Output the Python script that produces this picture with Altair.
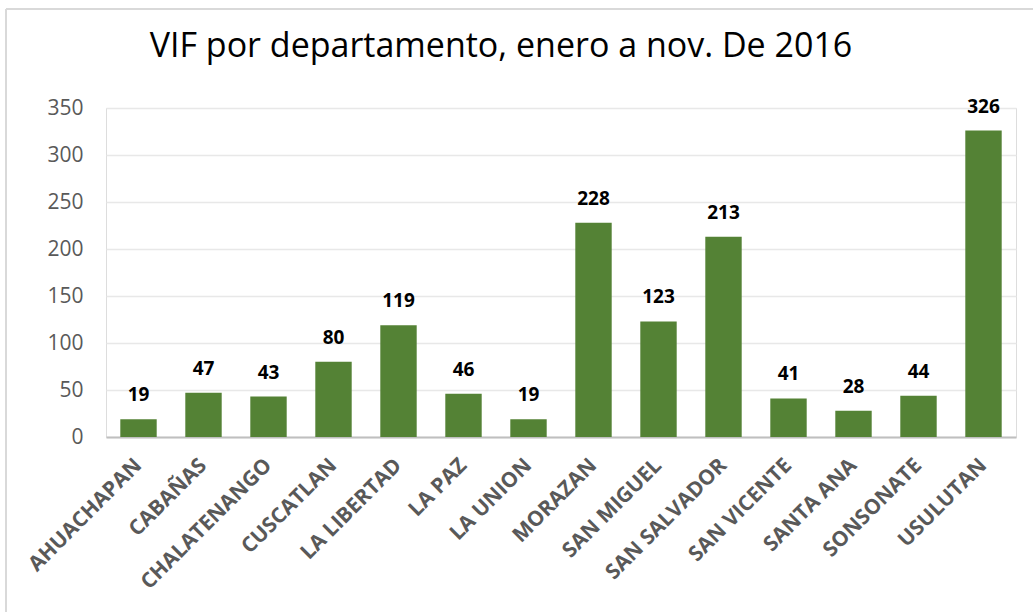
import altair as alt
import pandas as pd

departamentos = ["AHUACHAPAN", "CABAÑAS", "CHALATENANGO", "CUSCATLAN", "LA LIBERTAD",
                 "LA PAZ", "LA UNION", "MORAZAN", "SAN MIGUEL", "SAN SALVADOR",
                 "SAN VICENTE", "SANTA ANA", "SONSONATE", "USULUTAN"]
casos = [19, 47, 43, 80, 119, 46, 19, 228, 123, 213, 41, 28, 44, 326]
y_ticks = [0, 50, 100, 150, 200, 250, 300, 350]
titulo = ["VIF por departamento, enero a nov. De 2016"]

df = pd.DataFrame({"dep": departamentos, "casos": casos})

x = alt.X("dep:N", sort=departamentos, title=None,
          scale=alt.Scale(paddingInner=0.44, paddingOuter=0.22),
          axis=alt.Axis(labelAngle=-45, labelAlign="right", labelBaseline="middle",
                        labelFont="Open Sans", labelFontWeight="bold", labelFontSize=21,
                        labelColor="#595959", ticks=False, domain=True,
                        domainColor="#bfbfbf", domainWidth=2, labelPadding=25,
                        labelLimit=400))
y = alt.Y("casos:Q", title=None,
          scale=alt.Scale(domain=[0, 350], nice=False),
          axis=alt.Axis(values=y_ticks, labelFont="Open Sans", labelFontSize=21,
                        labelColor="#595959", ticks=False, domain=False,
                        gridColor="#e8e8e8", gridWidth=1.5, labelPadding=23))

bars = alt.Chart(df).mark_bar(color="#548235").encode(x=x, y=y)
labels = alt.Chart(df).mark_text(dy=-24, font="Open Sans", fontWeight="bold",
                                 fontSize=19, color="#000000").encode(
    x=alt.X("dep:N", sort=departamentos), y="casos:Q", text="casos:Q")

title_mark = alt.Chart(pd.DataFrame({"t": titulo})).mark_text(
    font="Open Sans", fontSize=34, color="#000000", align="center",
    baseline="alphabetic").encode(x=alt.value(395), y=alt.value(-51), text="t:N")

border_left = alt.Chart(df).mark_rule(color="#d9d9d9", strokeWidth=2).encode(
    x=alt.value(-100), y=alt.value(-99), y2=alt.value(600))
border_top = alt.Chart(df).mark_rule(color="#d9d9d9", strokeWidth=2).encode(
    x=alt.value(-100), x2=alt.value(1100), y=alt.value(-99))

chart = alt.layer(bars, labels, title_mark, border_left, border_top).properties(
    width=910, height=329,
    autosize=alt.AutoSizeParams(type="none"),
    padding={"left": 106, "top": 108, "right": 17, "bottom": 175},
).configure_view(stroke=None).configure(background="#ffffff")

chart.save("out.html", embed_options={"renderer": "svg", "actions": False})
